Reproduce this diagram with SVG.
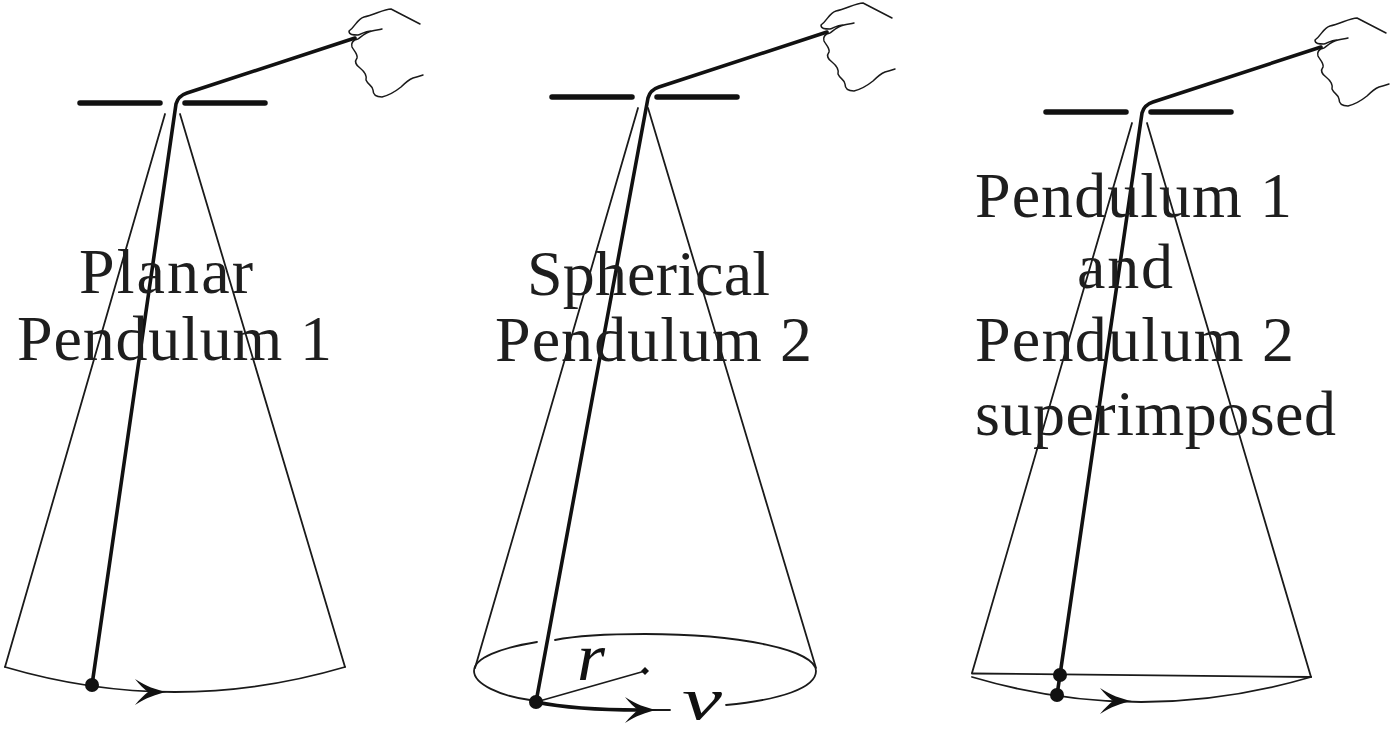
<svg xmlns="http://www.w3.org/2000/svg" width="1394" height="732" viewBox="0 0 1394 732">
<style>
.t{font-family:"Liberation Serif","Times New Roman",serif;font-size:64px;fill:#1e1e1e}
.m{font-family:"Liberation Serif","Times New Roman",serif;font-style:italic;fill:#111}
.thin{fill:none;stroke:#1a1a1a;stroke-width:1.8;stroke-linecap:round}
.rod{fill:none;stroke:#111;stroke-width:3.6;stroke-linecap:round;stroke-linejoin:round}
.bar{fill:none;stroke:#111;stroke-width:5.5;stroke-linecap:round}
.hand{fill:none;stroke:#1a1a1a;stroke-width:1.5;stroke-linecap:round;stroke-linejoin:round}
.dot{fill:#111}
</style>
<defs>
<g id="top">
<path class="bar" d="M80 103H160M185 103H265"/>
<path class="hand" d="M420 24L391 9C384 9 374 15 364 17C357 19 356 26 349 31C349 35 353 35 358 35C362 34 366 30 372 31C376 30 379 30 382 29M372 31C366 32 362 36 358 39C352 40 351 44 352 47C354 51 358 54 357 58C354 62 356 65 360 68C365 72 367 76 366 80C368 85 373 86 373 90C373 95 376 97 382 97C390 95 396 91 401 87C405 83 408 80 413 78C417 77 420 76 423 75"/>
</g>
<path id="head" class="dot" d="M0 0C-11 -2 -21 -6 -32 -13C-27 -7 -23 -3 -19 0C-23 3 -27 7 -32 13C-21 6 -11 2 0 0Z"/>
</defs>
<g id="connectors">
<g id="pendulum-1-lines">
<use href="#top"/>
<path class="rod" d="M355 38L187 93Q178 96 176 104L92 685"/>
<path class="thin" d="M165 114L5 667M180 114L345 667"/>
<path class="thin" d="M5 667Q175 717 345 667"/>
<use href="#head" x="167" y="692"/>
</g>
<g id="pendulum-2-lines">
<use href="#top" x="472" y="-6"/>
<path class="rod" d="M827 32L659 87Q650 90 648 98L536 702"/>
<path class="thin" d="M638 108L475 668M648 108L816 668"/>
<path class="thin" d="M537 642C500 648 474 658 474 671C474 684 500 696 530 700M555 640C580 635 615 634 645 634C740 634 816 650 816 671C816 688 780 700 726 705"/>
<path class="thin" d="M536 702L645 671"/>
<path class="rod" d="M536 702C565 708 600 710 640 710"/>
<path class="thin" d="M640 710H670"/>
<use href="#head" x="657" y="710"/>
<path class="dot" d="M645 667L649 671L645 675L641 671Z"/>
</g>
<g id="pendulum-3-lines">
<use href="#top" x="966" y="9"/>
<path class="rod" d="M1321 47L1153 102Q1144 105 1142 113L1060 675M1060 675L1057 695"/>
<path class="thin" d="M1132 123L972 673M1147 123L1311 677"/>
<path class="thin" d="M972 673.500L1311 677"/>
<path class="thin" d="M972 677Q1141 727 1311 677"/>
<use href="#head" x="1132" y="701"/>
</g>
</g>
<g id="pendulum-1">
<text class="t" x="79" y="293" textLength="174">Planar</text>
<text class="t" x="17" y="360" textLength="315">Pendulum 1</text>
<circle class="dot" cx="92" cy="685" r="7"/>
</g>
<g id="pendulum-2">
<text class="t" x="527" y="295" textLength="243">Spherical</text>
<text class="t" x="495" y="361" textLength="317">Pendulum 2</text>
<circle class="dot" cx="536" cy="702" r="7"/>
<text class="m" font-size="68" x="577" y="680" textLength="28" lengthAdjust="spacingAndGlyphs">r</text>
<text class="m" font-size="60" x="682" y="719" textLength="40" lengthAdjust="spacingAndGlyphs">v</text>
</g>
<g id="pendulum-3">
<text class="t" x="975" y="217" textLength="317">Pendulum 1</text>
<text class="t" x="1077" y="288" textLength="96">and</text>
<text class="t" x="975" y="361" textLength="319">Pendulum 2</text>
<text class="t" x="975" y="435" textLength="361">superimposed</text>
<circle class="dot" cx="1060" cy="675" r="7"/>
<circle class="dot" cx="1057" cy="695" r="7"/>
</g>
</svg>
